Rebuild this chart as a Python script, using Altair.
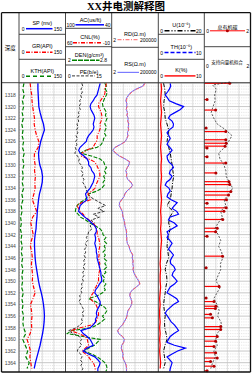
import altair as alt
import pandas as pd

# ---------------- data ----------------
DEPTH_1M = list(range(1316, 1366))                       # 1316 .. 1365
DEPTH_HALF = [1316 + 0.5 * i for i in range(100)]        # 1316 .. 1365.5

SP = [61, 61, 62, 63, 64, 68, 73, 79, 82, 76, 70, 66, 63, 64, 67, 73, 76, 75, 71, 66,
      63, 61, 59, 58, 56, 55, 52, 50, 50, 51, 52, 54, 57, 60, 63, 67, 72, 76, 79, 81,
      82, 81, 79, 76, 72, 68, 63, 58, 53, 49]
GR = [36, 38, 41, 42, 44, 47, 50, 49, 52, 57, 64, 62, 50, 49, 52, 50, 53, 51, 52, 48,
      43, 50, 57, 44, 38, 42, 46, 40, 37, 41, 43, 40, 42, 44, 43, 47, 52, 45, 37, 40,
      42, 40, 41, 36, 26, 32, 37, 35, 38, 41]
KTH = [16, 12, 17, 11, 15, 10, 14, 9, 13, 10, 15, 11, 17, 12, 16, 11, 14, 10, 15, 9,
       13, 7, 10, 5, 8, 4, 9, 6, 11, 7, 12, 8, 13, 9, 12, 8, 14, 9, 13, 10,
       15, 12, 15, 22, 12, 20, 28, 22, 33, 26]

AC = [55, 56, 57, 58, 59, 62, 64, 67, 68, 67, 65, 63, 62, 63, 64, 63, 64, 67, 70, 72,
      73, 77, 81, 83, 81, 76, 72, 70, 70, 67, 66, 63, 62, 63, 64, 66, 68, 71, 74, 73,
      72, 77, 81, 82, 83, 79, 75, 70, 66, 62, 60, 60, 62, 61, 61, 62, 61, 60, 60, 59,
      59, 58, 57, 56, 55, 54, 54, 53, 53, 56, 58, 61, 62, 59, 57, 55, 55, 57, 59, 60,
      59, 61, 61, 64, 68, 80, 77, 72, 68, 66, 64, 72, 77, 70, 62, 58, 55, 56, 58, 58]
CNL = [-2, -1, 1, 0, 1, 4, 7, 10, 10, 8, 6, 5, 5, 6, 8, 7, 8, 10, 12, 12,
       13, 16, 18, 28, 35, 37, 25, 16, 13, 11, 9, 8, 8, 10, 12, 14, 15, 20, 26, 24,
       22, 35, 43, 40, 38, 33, 30, 24, 18, 15, 13, 12, 12, 10, 9, 8, 8, 9, 10, 9,
       10, 9, 8, 9, 8, 9, 10, 10, 10, 12, 14, 17, 18, 21, 23, 18, 14, 12, 11, 10,
       10, 12, 14, 20, 38, 52, 40, 30, 27, 26, 25, 30, 35, 30, 25, 22, 18, 16, 15, 15]
DEN = [2.68, 2.71, 2.69, 2.72, 2.71, 2.68, 2.66, 2.64, 2.65, 2.68,
       2.71, 2.69, 2.72, 2.70, 2.68, 2.71, 2.69, 2.67, 2.70, 2.66,
       2.65, 2.62, 2.55, 2.35, 2.26, 2.45, 2.60, 2.66, 2.68, 2.71,
       2.67, 2.70, 2.66, 2.69, 2.65, 2.67, 2.63, 2.55, 2.40, 2.38,
       2.34, 2.25, 2.20, 2.18, 2.17, 2.22, 2.26, 2.35, 2.42, 2.52,
       2.60, 2.64, 2.65, 2.70, 2.66, 2.71, 2.67, 2.70, 2.65, 2.69,
       2.66, 2.71, 2.68, 2.72, 2.67, 2.70, 2.64, 2.68, 2.65, 2.70,
       2.66, 2.69, 2.64, 2.55, 2.40, 2.52, 2.60, 2.68, 2.72, 2.69,
       2.64, 2.68, 2.62, 2.55, 2.45, 2.10, 2.03, 2.30, 2.60, 2.55,
       2.50, 2.40, 2.32, 2.45, 2.55, 2.62, 2.68, 2.71, 2.72, 2.70]
PE = [5.3, 5.6, 5.0, 5.5, 4.9, 5.2, 4.6, 4.9, 4.4, 4.8, 4.2, 4.5, 3.9, 4.3, 3.7, 4.1, 3.6, 4.0, 3.4, 3.9,
      3.3, 3.7, 3.2, 3.5, 3.0, 3.9, 4.5, 4.2, 5.0, 5.5, 5.1, 5.8, 5.3, 6.0, 5.6, 6.2, 6.6, 6.9, 7.4, 8.0,
      9.5, 11.2, 13.0, 10.5, 12.6, 9.0, 11.0, 8.3, 9.4, 8.0, 8.6, 7.5, 7.3, 6.8, 7.2, 6.4, 6.9, 6.2, 6.6, 6.0,
      6.5, 5.9, 6.3, 5.7, 6.2, 5.6, 6.0, 5.4, 5.8, 5.2, 5.5, 4.9, 5.3, 4.6, 4.9, 4.4, 5.0, 5.5, 6.0, 5.4,
      5.8, 5.2, 5.6, 4.8, 3.5, 1.0, 2.5, 4.5, 5.2, 4.6, 5.3, 4.2, 3.8, 4.9, 5.4, 4.8, 5.5, 5.0, 5.6, 5.2]

RD = [7700, 5000, 1000, 300, 150, 90, 75, 80, 95, 70, 110, 80, 130, 100, 150, 110, 140, 95, 120, 80,
      60, 20, 5, 2.8, 6, 15, 60, 180, 150, 90, 70, 85, 75, 110, 250, 380, 200, 90, 55, 40,
      25, 15, 14, 20, 30, 28, 35, 45, 50, 55, 70, 80, 75, 85, 80, 100, 150, 180, 250, 380,
      300, 420, 350, 450, 380, 500, 700, 1100, 1700, 2200, 900, 350, 200, 180, 250, 300, 280, 200, 120, 100,
      90, 70, 45, 30, 15, 9, 12, 30, 50, 40, 25, 22, 28, 35, 32, 40, 60, 75, 80, 80]
RS = [6500, 4200, 800, 250, 130, 80, 65, 85, 80, 75, 95, 90, 115, 110, 130, 120, 125, 100, 105, 85,
      55, 18, 4.5, 2.6, 5, 13, 55, 160, 140, 95, 65, 80, 80, 100, 220, 340, 210, 85, 50, 42,
      22, 14, 13, 18, 27, 30, 32, 42, 48, 52, 65, 75, 78, 80, 85, 95, 140, 170, 230, 350,
      320, 380, 370, 420, 400, 460, 650, 1000, 1600, 2000, 850, 330, 190, 170, 230, 280, 270, 190, 115, 95,
      85, 65, 42, 28, 14, 8.5, 11, 28, 46, 38, 24, 21, 26, 33, 30, 38, 56, 70, 76, 78]

U = [2.3, 2.8, 3.0, 2.5, 2.3, 2.8, 3.0, 3.8, 4.5, 4.2, 3.8, 4.5, 5.2, 5.6, 6.0, 6.3, 6.7, 6.2, 6.0, 5.6,
     5.2, 3.8, 6.5, 5.0, 4.5, 5.2, 4.5, 4.0, 3.8, 4.2, 4.5, 3.5, 3.0, 3.6, 3.8, 3.3, 3.0, 2.6, 2.3, 2.6,
     3.0, 2.7, 2.8, 3.4, 3.8, 2.9, 2.3, 2.7, 3.0, 2.3]
TH = [2.6, 2.7, 2.4, 2.0, 1.5, 2.0, 2.4, 3.8, 5.5, 4.8, 3.7, 2.6, 2.2, 3.0, 3.3, 3.2, 2.4, 1.9, 2.3, 2.6,
      2.2, 1.9, 2.5, 3.0, 2.5, 1.9, 2.0, 2.3, 3.0, 3.3, 2.6, 2.4, 3.0, 2.6, 1.8, 1.5, 2.3, 2.6, 2.1, 1.9,
      2.8, 4.1, 3.5, 3.0, 4.0, 4.4, 2.5, 2.2, 3.5, 4.1, 3.0, 1.9, 2.2, 1.9, 2.5, 3.0, 2.6, 2.2, 2.8, 3.3,
      2.9, 2.6, 2.7, 3.4, 3.7, 3.2, 3.0, 3.6, 4.1, 3.5, 2.6, 2.2, 1.9, 3.0, 4.0, 4.4, 3.3, 2.6, 1.9, 1.5,
      2.0, 2.4, 2.8, 3.5, 4.0, 4.4, 3.4, 2.6, 2.2, 1.9, 3.5, 5.9, 4.2, 3.0, 1.9, 2.5, 3.0, 2.8, 2.6, 2.5]
K = [0.6, 0.7, 0.6, 0.5, 0.6, 0.7, 0.6, 0.5, 0.6, 0.7, 0.6, 0.5, 0.6, 0.7, 0.6, 0.6, 0.7, 0.6, 0.5, 0.6,
     0.7, 0.6, 0.5, 0.6, 0.6, 0.5, 0.6, 0.7, 0.6, 0.5, 0.5, 0.4, 0.5, 0.4, 0.4, 0.5, 0.4, 0.3, 0.4, 0.3,
     0.3, 0.4, 0.3, 0.4, 0.3, 0.4, 0.3, 0.4, 0.5, 0.4]

SVM_DEPTH = [1315.8, 1316.3] + list(range(1317, 1366))
SVM = [1.10, 0.36, 0.52, 0.45, 0.47, 0.38, 0.30, 0.41, 0.56, 0.93, 1.20, 1.05,
       0.88, 0.62, 0.68, 0.85, 0.93, 0.95, 1.08, 1.23, 1.08, 0.86,
       0.93, 0.71, 0.78, 0.60, 0.45, 0.60, 0.71, 0.62, 0.75, 0.80,
       0.70, 0.71, 0.60, 0.50, 0.70, 0.55, 0.41, 0.55, 0.64, 0.58,
       0.72, 0.76, 0.55, 0.50, 0.56, 0.41, 0.48, 0.36, 0.28]

TOC_DEPTH = [1316.0, 1318.8, 1320.6, 1323.7, 1324.3, 1325.7, 1326.3, 1326.8, 1327.1, 1328.6,
             1329.7, 1331.4, 1332.9, 1333.4, 1334.6, 1335.2, 1336.0, 1336.6, 1337.4, 1338.0,
             1339.4, 1340.9, 1341.5, 1342.3, 1345.7, 1347.7, 1350.9, 1352.9, 1353.5, 1354.3,
             1354.7, 1355.7, 1356.3, 1357.8, 1358.3, 1359.5, 1360.3, 1361.2, 1362.3, 1363.2,
             1363.8, 1364.6, 1365.4]
TOC = [1.10, 0.12, 0.49, 0.08, 0.93, 0.93, 0.95, 0.90, 0.12, 0.12,
       0.93, 0.50, 1.07, 1.10, 1.15, 1.05, 0.96, 0.12, 0.95, 0.85,
       0.80, 0.56, 0.49, 0.12, 0.79, 0.08, 0.64, 0.08, 0.42, 0.50,
       0.48, 0.27, 0.35, 0.71, 0.71, 0.56, 0.49, 0.42, 0.49, 0.56,
       0.27, 0.42, 0.12]

DEPTH_LABELS = list(range(1318, 1366, 2))

# ---------------- layout ----------------
W, H = 252, 374
XB = [1.5, 19, 65.5, 111.7, 158.3, 204.3, 250.5]
Y_TOP, Y_HEAD, Y_BOT = 12.7, 82.7, 372
D_MIN, D_MAX = 1315.9, 1365.6
SANS = "Liberation Sans, Noto Sans CJK SC"

YS = alt.Scale(domain=[D_MIN, D_MAX], range=[Y_HEAD, Y_BOT], nice=False, zero=False)


def yenc():
    return alt.Y("depth:Q", scale=YS, axis=None)


def xscale(domain, track, log=False, reverse=False):
    kw = dict(domain=domain, range=[XB[track], XB[track + 1]], nice=False)
    if log:
        kw["type"] = "log"
    else:
        kw["zero"] = False
    if reverse:
        kw["reverse"] = True
    return alt.Scale(**kw)


def curve(depths, vals, scale, color, width=1.0, dash=None):
    df = pd.DataFrame({"depth": depths, "v": vals})
    mk = dict(color=color, strokeWidth=width)
    if dash:
        mk["strokeDash"] = dash
    return alt.Chart(df).mark_line(**mk).encode(
        x=alt.X("v:Q", scale=scale, axis=None), y=yenc(), order="depth:Q")


layers = []

# grid: horizontal
major = pd.DataFrame({"depth": list(range(1316, 1366, 2))})
minor = pd.DataFrame({"depth": [1316 + 0.5 * i for i in range(100) if (0.5 * i) % 2 != 0]})
layers.append(alt.Chart(minor).mark_rule(color="#cfcfcf", strokeWidth=0.6, strokeDash=[1, 1.2]).encode(
    y=yenc(), x=alt.value(XB[1]), x2=alt.value(XB[-1])))
layers.append(alt.Chart(major).mark_rule(color="#b0b0b0", strokeWidth=0.7).encode(
    y=yenc(), x=alt.value(XB[1]), x2=alt.value(XB[-1])))
# grid: vertical
vx = []
for t in range(1, 6):
    w = XB[t + 1] - XB[t]
    for k in (1, 2, 3):
        vx.append(XB[t] + k * w / 4)
layers.append(alt.Chart(pd.DataFrame({"px": vx})).mark_rule(color="#c4c4c4", strokeWidth=0.6).encode(
    x=alt.X("px:Q", scale=None), y=alt.value(Y_HEAD), y2=alt.value(Y_BOT)))

DASHDOT = [4, 1.5, 1, 1.5]
# track 1
layers.append(curve(DEPTH_1M, KTH, xscale([0, 150], 1), "#008000", 1.2, [4, 2]))
layers.append(curve(DEPTH_1M, GR, xscale([0, 150], 1), "#ff0000", 1.2, DASHDOT))
layers.append(curve(DEPTH_1M, SP, xscale([0, 150], 1), "#0000ff", 1.3))
# track 2
layers.append(curve(DEPTH_HALF, PE, xscale([0, 15], 2), "#222222", 0.9, [3, 1.5]))
layers.append(curve(DEPTH_HALF, DEN, xscale([2, 2.8], 2), "#008000", 1.1, [4, 1.5]))
layers.append(curve(DEPTH_HALF, CNL, xscale([-10, 60], 2, reverse=True), "#ff0000", 1.1, DASHDOT))
layers.append(curve(DEPTH_HALF, AC, xscale([40, 100], 2, reverse=True), "#0000ff", 1.2))
# track 3
layers.append(curve(DEPTH_HALF, RS, xscale([2, 200000], 3, log=True), "#6a6aff", 1.0))
layers.append(curve(DEPTH_HALF, RD, xscale([2, 200000], 3, log=True), "#ff6060", 0.9, DASHDOT))
# track 4
layers.append(curve(DEPTH_1M, K, xscale([0, 10], 4), "#ff0000", 1.3))
layers.append(curve(DEPTH_1M, U, xscale([0, 20], 4), "#000000", 1.0, DASHDOT))
layers.append(curve(DEPTH_HALF, TH, xscale([0, 10], 4), "#0000ff", 1.2))
# track 5
toc_df = pd.DataFrame({"depth": TOC_DEPTH, "toc": TOC, "z": [0.0] * len(TOC)})
layers.append(alt.Chart(toc_df).mark_rule(color="#ff0000", strokeWidth=1.2).encode(
    x=alt.X("z:Q", scale=xscale([0, 2], 5), axis=None), x2="toc:Q", y=yenc()))
layers.append(curve(SVM_DEPTH, SVM, xscale([0, 2], 5), "#333333", 0.8, [2, 1.5]))
layers.append(alt.Chart(toc_df).mark_point(filled=True, color="#b00000", size=9, opacity=1).encode(
    x=alt.X("toc:Q", scale=xscale([0, 2], 5), axis=None), y=yenc()))

# depth labels
layers.append(alt.Chart(pd.DataFrame({"depth": DEPTH_LABELS, "lab": [str(d) for d in DEPTH_LABELS]}))
              .mark_text(fontSize=5, color="#444444", font=SANS, baseline="middle").encode(
    y=yenc(), x=alt.value(10.3), text="lab:N"))

# frame lines
frames = []
for x in XB[1:-1]:
    frames.append((x, x, Y_TOP, Y_BOT))
frames.append((XB[0], XB[-1], Y_HEAD, Y_HEAD))
for (t, ys) in [(1, [34.3, 59.3]), (2, [28.3, 46.7, 65.0]), (3, [47.3]), (4, [34.3, 59.3]), (5, [46.7])]:
    for y in ys:
        frames.append((XB[t], XB[t + 1], y, y))
fdf = pd.DataFrame(frames, columns=["x1", "x2", "y1", "y2"])
layers.append(alt.Chart(fdf).mark_rule(color="#333333", strokeWidth=0.9).encode(
    x=alt.X("x1:Q", scale=None), x2="x2:Q", y=alt.Y("y1:Q", scale=None), y2="y2:Q"))
outer = pd.DataFrame([(XB[0], XB[-1], Y_TOP, Y_TOP), (XB[0], XB[-1], Y_BOT, Y_BOT),
                      (XB[0], XB[0], Y_TOP, Y_BOT), (XB[-1], XB[-1], Y_TOP, Y_BOT)],
                     columns=["x1", "x2", "y1", "y2"])
layers.append(alt.Chart(outer).mark_rule(color="#111111", strokeWidth=1.3).encode(
    x=alt.X("x1:Q", scale=None), x2="x2:Q", y=alt.Y("y1:Q", scale=None), y2="y2:Q"))

# header legend lines: (x1, x2, y, color, width, dash)
legend_lines = [
    (26, 52.5, 28.7, "#0000ff", 1.5, None),
    (26, 52.5, 52.2, "#ff0000", 1.4, DASHDOT),
    (26, 52.5, 76.2, "#008000", 1.4, [4, 3]),
    (75.5, 104, 24.8, "#0000ff", 1.5, None),
    (73, 102, 42.8, "#ff0000", 1.4, DASHDOT),
    (72, 99.5, 60.2, "#008000", 1.5, [5, 1]),
    (72, 95, 75.9, "#333333", 1.0, [3, 1.5]),
    (117.5, 139, 39.6, "#ff8080", 1.2, DASHDOT),
    (117.5, 139, 72.4, "#7b7bff", 1.2, None),
    (164.5, 195.5, 30.7, "#000000", 1.4, [5, 2, 1, 2, 1, 2]),
    (164.5, 195.5, 52.5, "#0000ff", 1.4, [4, 2]),
    (164.5, 195.5, 75.9, "#ff0000", 1.4, None),
    (210, 245, 30.8, "#ff0000", 1.0, None),
]
for (x1, x2, y, c, w, d) in legend_lines:
    mk = dict(color=c, strokeWidth=w)
    if d:
        mk["strokeDash"] = d
    layers.append(alt.Chart(pd.DataFrame({"a": [0]})).mark_rule(**mk).encode(
        x=alt.value(x1), x2=alt.value(x2), y=alt.value(y)))
layers.append(alt.Chart(pd.DataFrame({"a": [0]})).mark_point(filled=True, color="#b00000", size=9, opacity=1).encode(
    x=alt.value(227.4), y=alt.value(30.8)))

# header texts
texts = [
    ("深度", 10.3, 47.5, 5.5),
    ("SP  (mv)", 42.3, 22.5, 5.5), ("0", 23.2, 28.7, 5), ("150", 57.8, 28.7, 5),
    ("GR(API)", 42.3, 46.3, 5.5), ("0", 23.2, 52.2, 5), ("150", 57.8, 52.2, 5),
    ("KTH(API)", 42.3, 70.5, 5.5), ("0", 23.2, 76.2, 5), ("150", 57.8, 76.2, 5),
    ("AC(us/ft)", 90.5, 19.8, 5.5), ("100", 70.6, 24.8, 5), ("40", 107.8, 24.8, 5),
    ("CNL(%)", 90, 36.8, 5.5), ("60", 69.8, 42.8, 5), ("-10", 106.5, 42.8, 5),
    ("DEN(g/cm³)", 89.3, 54.5, 5.5), ("2", 69.5, 60.2, 5), ("2.8", 103.5, 60.2, 5),
    ("PE(b/e)", 89, 71.5, 5.5), ("0", 69.3, 75.9, 5), ("15", 99, 75.9, 5),
    ("RD(Ω.m)", 135, 34.2, 5.5), ("2", 114.6, 39.6, 5), ("200000", 148.3, 39.6, 5),
    ("RS(Ω.m)", 135, 63.5, 5.5), ("2", 114.6, 72.4, 5), ("200000", 148.3, 72.4, 5),
    ("U(10⁻⁶)", 181.3, 24.5, 5.5), ("0", 161.6, 30.7, 5), ("20", 198.8, 30.7, 5),
    ("TH(10⁻⁶)", 181.3, 46.5, 5.5), ("0", 161.6, 52.5, 5), ("10", 198.8, 52.5, 5),
    ("K(%)", 181.3, 70.2, 5.5), ("0", 161.6, 75.9, 5), ("10", 198.8, 75.9, 5),
    ("总有机碳", 227.4, 27.3, 5), ("0", 207.6, 30.8, 5), ("2", 247.6, 30.8, 5),
    ("支持向量机拟合", 227, 63, 4.5), ("0", 207.3, 65.5, 5), ("2", 248, 65.5, 5),
]
tdf = pd.DataFrame(texts, columns=["t", "x", "y", "s"])
layers.append(alt.Chart(tdf).mark_text(font=SANS, color="#000000", baseline="middle", align="center").encode(
    x=alt.X("x:Q", scale=None), y=alt.Y("y:Q", scale=None), text="t:N", size=alt.Size("s:Q", scale=None)))

# title
layers.append(alt.Chart(pd.DataFrame({"t": ["XX井电测解释图"]})).mark_text(
    font="Liberation Serif, Noto Sans CJK SC", fontSize=10.5, fontWeight="bold", color="#000000",
    baseline="middle", align="center").encode(
    x=alt.value(126), y=alt.value(7), text="t:N"))

chart = (alt.layer(*layers)
         .resolve_scale(x="independent")
         .properties(width=W, height=H, autosize=alt.AutoSizeParams(type="none"), padding=0, background="white")
         .configure_view(stroke=None))

chart.save("out.html", embed_options={"renderer": "svg", "actions": False})
